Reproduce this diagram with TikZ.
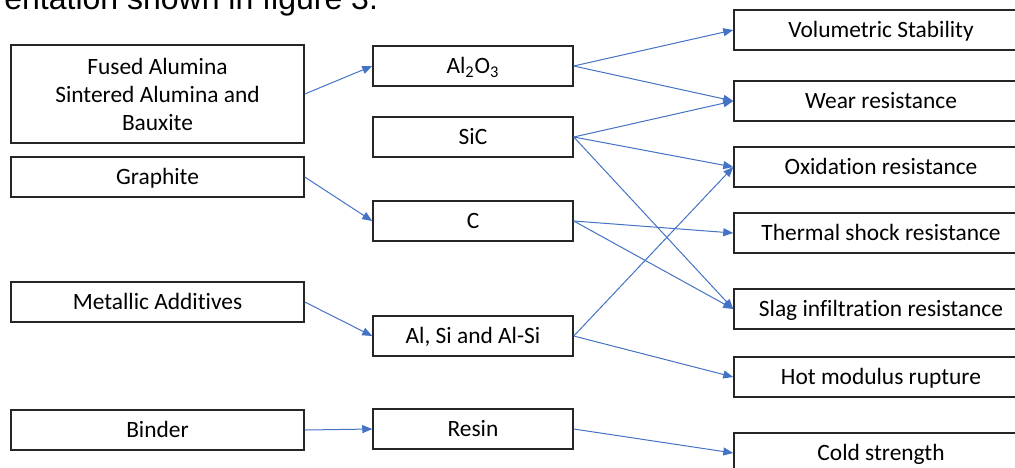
\documentclass[tikz,border=0pt]{standalone}
\usepackage{fontspec}
\setmainfont{Carlito}[Ligatures={NoCommon}]
\newfontfamily\captionfont{Liberation Sans}
\usepackage{xcolor}
\usetikzlibrary{arrows.meta}
\definecolor{linkblue}{HTML}{4472C4}

\begin{document}
\begin{tikzpicture}[x=0.5pt,y=-0.5pt,
  item/.style={draw=black!85,line width=0.75pt,minimum height=20pt,inner sep=0pt,
    align=center,font=\fontsize{11.7}{14}\selectfont},
  one/.style={text height=9.5pt,text depth=2pt},
  src/.style={item,minimum width=146.5pt},
  mat/.style={item,one,minimum width=100pt},
  prop/.style={item,one,minimum width=147pt},
  link/.style={draw=linkblue,line width=0.5pt,-{Triangle[length=5pt,width=4pt]}}]
  \def\xL{157.5}  % raw materials
  \def\xM{473}    % constituents
  \def\xR{881}    % properties

  \clip (0,0) rectangle (1015,467);

  % cut-off line of the surrounding text
  \node[anchor=base west,inner sep=0pt,font=\captionfont\fontsize{16}{19}\selectfont]
    (cap) at (4,9) {entation shown in figure 3.};

  % raw materials
  \node[src,minimum height=49pt] (fused) at (\xL,94)
    {Fused Alumina\\Sintered Alumina and\\Bauxite};
  \node[src,one] (graph) at (\xL,177) {Graphite};
  \node[src,one] (metal) at (\xL,302) {Metallic Additives};
  \node[src,one] (bind)  at (\xL,430) {Binder};

  % constituents
  \node[mat] (alu)  at (\xM,66)  {Al\textsubscript{2}O\textsubscript{3}};
  \node[mat] (sic)  at (\xM,137) {SiC};
  \node[mat] (carb) at (\xM,221) {C};
  \node[mat] (alsi) at (\xM,336) {Al, Si and Al-Si};
  \node[mat] (res)  at (\xM,429) {Resin};

  % properties
  \foreach \nm/\yy/\txt in {vol/30/Volumetric Stability, wear/101/Wear resistance,
      oxid/167/Oxidation resistance, therm/233/Thermal shock resistance,
      slag/309/Slag infiltration resistance, hot/377/Hot modulus rupture,
      cold/453/Cold strength}{
    \node[prop] (\nm) at (\xR,\yy) {\txt};
  }

  % links
  \foreach \a/\b in {fused/alu, graph/carb, metal/alsi, bind/res,
      alu/vol, alu/wear, sic/wear, sic/oxid, sic/slag,
      carb/therm, carb/slag, alsi/oxid, alsi/hot, res/cold}{
    \draw[link] (\a.east) -- (\b.west);
  }
\end{tikzpicture}
\end{document}
